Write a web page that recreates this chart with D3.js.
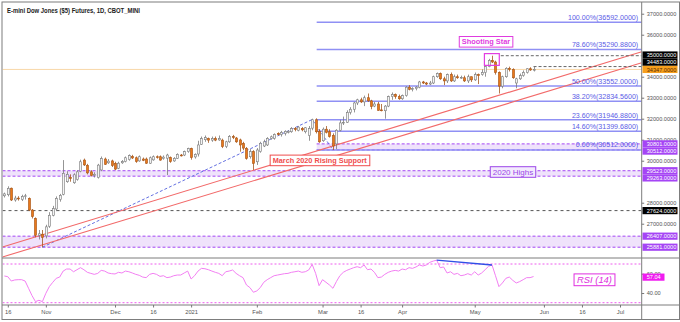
<!DOCTYPE html>
<html><head><meta charset="utf-8">
<script src="https://cdn.jsdelivr.net/npm/d3@7/dist/d3.min.js"></script>
<style>
body{margin:0;background:#fff}
svg{display:block;font-family:"Liberation Sans",Arial,sans-serif}
</style>
</head><body>
<svg id="chart" width="680" height="322"></svg>
<script>
// Daily bars, [open, high, low, close]; bar 0 = 15 Oct 2020
const candles = [
[28330,28480,28250,28420],[28380,28780,28300,28680],[28690,28720,28080,28130],[28130,28330,28050,28220],[28220,28310,28100,28180],
[28150,28380,28080,28300],[28300,28420,28150,28330],[28200,28250,27600,27650],[27650,27700,27250,27340],[27250,27300,26350,26450],
[26450,26700,26250,26520],[26500,26700,25881,26350],[26420,26950,26300,26850],[26880,27550,26800,27400],[27400,27850,27350,27720],
[27700,28300,27600,28200],[28150,28420,28050,28350],[28400,30030,28350,29400],[29000,29500,28950,29350],[29200,29350,29000,29150],
[28950,29400,28900,29330],[29100,29550,29050,29470],[29500,30050,29450,29950],[30030,30100,29750,29800],[29780,29850,29350,29420],
[29470,29550,29250,29300],[29300,29450,29200,29350],[29200,29850,29150,29790],[29560,30200,29500,30100],[30080,30150,29800,29830],
[29900,30080,29850,29980],[29990,30050,29700,29770],[29870,29950,29550,29600],[29640,29950,29600,29880],[29900,30030,29850,29960],
[29960,30200,29920,30140],[30050,30300,30000,30240],[30200,30280,30080,30130],[30140,30200,29900,29960],[29990,30250,29950,30190],
[30080,30150,29980,30020],[30080,30150,29850,29880],[29880,30200,29850,30140],[30040,30250,30000,30190],[30190,30250,30100,30150],
[30190,30250,30000,30030],[30100,30250,30050,30170],[30120,30330,29320,30270],[30150,30200,29900,29960],[29990,30170,29950,30110],
[30110,30350,30080,30300],[30270,30320,30200,30230],[30270,30480,30220,30430],[30430,30620,30380,30580],[30580,30620,30050,30150],
[30180,30350,30100,30300],[30320,30950,30200,30750],[30780,31150,30750,31050],[31000,31200,30900,31100],[31050,31100,30850,30980],
[30980,31150,30900,31050],[31050,31150,30930,30980],[30990,31200,30950,31060],[30980,31050,30600,30670],[30670,30950,30600,30900],
[30900,31220,30850,31150],[31150,31230,31030,31100],[31080,31130,30850,30900],[30990,31050,30430,30750],[30820,30900,30500,30600],
[30590,30650,30050,30110],[30190,30550,30100,30430],[30430,30500,29560,29875],[29950,30600,29800,30510],[30430,30900,30380,30830],
[30700,31000,30650,30900],[30750,31120,30700,31060],[31060,31200,31000,31140],[31060,31300,31000,31250],[31300,31350,31200,31240],
[31250,31420,31150,31350],[31300,31450,31200,31400],[31350,31450,31300,31400],[31380,31600,31330,31530],[31530,31600,31400,31480],
[31450,31650,31400,31600],[31530,31600,31400,31470],[31380,31600,31300,31570],[31200,31650,30950,31540],[31550,32000,31450,31950],
[31950,32020,31300,31380],[31400,31500,30850,30900],[30950,31580,30900,31500],[31500,31650,31300,31350],[31380,31500,31100,31150],
[31200,31300,30512,30700],[30800,31500,30550,31450],[31450,31950,31400,31800],[31800,32100,31700,31830],[31830,32400,31800,32300],
[32300,32550,32200,32450],[32450,32800,32300,32750],[32750,32950,32650,32900],[32900,33000,32750,32800],[32800,33100,32600,33000],
[33000,33200,32800,32850],[32850,32900,32450,32580],[32600,32800,32550,32700],[32700,32800,32380,32400],[32420,32700,32350,32380],
[32380,32650,32000,32600],[32600,33100,32550,33050],[33050,33250,32900,33150],[33150,33200,32950,33050],[33050,33150,32900,32950],
[32950,33150,32900,33100],[33100,33550,33050,33500],[33500,33600,33350,33400],[33400,33500,33300,33430],[33430,33550,33350,33500],
[33500,33800,33450,33750],[33750,33800,33650,33700],[33700,33750,33600,33650],[33650,33800,33600,33700],[33700,34050,33650,34000],
[34000,34200,33950,34150],[34150,34200,33850,33900],[33900,34000,33600,33800],[33800,34150,33700,34100],[34100,34200,33750,33800],
[33800,34100,33750,34000],[34000,34100,33900,33950],[33950,34050,33900,33970],[33950,34050,33750,33800],[33800,34100,33700,34000],
[34000,34000,33750,33850],[33850,34200,33800,34100],[34100,34150,33650,34050],[34100,34350,34050,34200],[34200,34520,34000,34480],
[34480,34850,34450,34780],[34780,35000,34650,34700],[34700,34760,34100,34200],[34200,34250,33200,33550],[33550,34050,33450,34000],
[34000,34450,33950,34400],[34400,34480,34250,34350],[34350,34400,33900,33950],[33700,33950,33450,33900],[33900,34150,33850,34050],
[34050,34300,34000,34200],[34200,34400,34150,34380],[34380,34450,34280,34320],[34330,34483,34250,34347]
];

// RSI(14) per bar
const rsi = [
57.6,56.9,52.4,53.5,53.8,53.8,52.4,44.9,37.3,31.1,
32.5,31.1,39.7,46.6,51.1,55.2,56.5,62.7,64.8,64.8,
62.0,64.1,66.2,64.1,61.4,60.3,59.3,60.3,63.4,62.7,
60.7,60.0,59.7,61.4,60.7,62.7,62.0,60.7,59.3,58.3,
56.5,55.9,59.3,60.3,59.3,57.2,57.9,55.9,56.5,57.9,
58.6,58.6,60.7,62.7,54.5,57.9,62.7,65.5,65.1,64.1,
62.7,61.4,60.3,57.9,62.0,62.7,63.8,60.3,57.9,55.9,
48.3,45.6,40.8,42.2,45.6,51.1,53.8,55.9,57.9,58.6,
59.3,60.0,60.3,61.4,62.0,62.7,61.4,62.0,63.8,69.6,
60.3,47.6,53.8,51.1,48.3,44.9,51.8,57.9,61.4,63.4,
64.8,66.2,67.2,66.2,69.0,64.1,64.8,61.4,55.9,56.5,
59.3,61.4,62.7,63.4,62.7,64.8,64.1,66.2,65.5,66.9,
69.0,67.9,69.0,71.7,73.0,74.0,66.2,66.9,60.7,62.0,
59.3,60.3,57.9,58.6,60.0,58.6,62.0,58.6,60.7,64.1,
67.6,69.0,57.9,46.6,50.4,55.2,56.5,53.1,50.4,51.8,
53.8,55.9,55.9,57.04
];

// Time axis: labels and the bar they sit on
const timeLabels = ["16","Nov","Dec","16","2021","Feb","Mar","16","Apr","May","Jun","16","Jul"];
const timeBars   = [1,12,32,43,54,73,92,103,115,136,156,167,178];

// Price axis ticks (levels under a value box are left out)
const priceTicks = [37000,36000,34000,33000,32000,31000,30000,28000,27000];
const rsiTicks = [60,40];

// Fibonacci extension (A -> B -> C)
const fibPoints = [[11,25881],[89,31961],[95,30512]];
const fibRatios = ["100.00%","78.60%","50.00%","38.20%","23.60%","14.60%","0.00%"];
const fibValues = [36592,35290.88,33552,32834.56,31946.88,31399.68,30512];
const fibStartBar = 90.3;

// Support / resistance zones [upper, lower, first bar or null for full width]
const zones = [[29523,29263,null],[26407,25881,null],[30801,30512,90.3]];
const dashedLevel = 27624;
const shootingStarHigh = 35000, recentHigh = 34483, lastPrice = 34347;
const lastRsi = 57.04;

// Rising support channel, two anchor points each [bar, price]
const supportUpper = [[0,25919],[180,34975]];
const supportLower = [[0,25443],[180,34448]];

// Bearish RSI divergence [bar, rsi]
const rsiDivergence = [[125,74.0],[141,69.0]];

// Shooting star highlight [bar from, bar to, price low, price high]
const starBox = [138.8,143.1,34540,35100];

// ---------------------------------------------------------------
const svg = d3.select("#chart");
const L = 2.5, R = 641.7, T = 2.5, MB = 258, RB = 305, B = 319.5, FR = 679.5;

const x  = d3.scaleLinear().domain([0,178]).range([4.35,620]);
const y  = d3.scaleLinear().domain([25367,37510]).range([MB,3]);
const yr = d3.scaleLinear().domain([30,70]).range([302.7,264]);

svg.append("rect").attr("width",680).attr("height",322).attr("fill","#fff");

const defs = svg.append("defs");
defs.append("clipPath").attr("id","mainClip").append("rect")
  .attr("x",L).attr("y",T).attr("width",R-L).attr("height",MB-T);
defs.append("clipPath").attr("id","rsiClip").append("rect")
  .attr("x",L).attr("y",MB).attr("width",R-L).attr("height",RB-MB);

const main = svg.append("g").attr("clip-path","url(#mainClip)");
const rsiG = svg.append("g").attr("clip-path","url(#rsiClip)");

const violet = "#a545f5", zoneFill = "#efe2fb";

// zones
zones.forEach(([hi,lo,start])=>{
  const x0 = start===null ? L : x(start);
  main.append("rect").attr("x",x0).attr("y",y(hi)).attr("width",R-x0).attr("height",y(lo)-y(hi))
    .attr("fill",zoneFill);
  [hi,lo].forEach(v=>{
    main.append("line").attr("x1",x0).attr("x2",R).attr("y1",y(v)).attr("y2",y(v))
      .attr("stroke",violet).attr("stroke-width",1).attr("stroke-dasharray","3,2");
  });
});

// last price line
main.append("line").attr("x1",L).attr("x2",R).attr("y1",y(lastPrice)).attr("y2",y(lastPrice))
  .attr("stroke","#f8d7a8").attr("stroke-width",1);

// dashed horizontal level
main.append("line").attr("x1",L).attr("x2",R).attr("y1",y(dashedLevel)).attr("y2",y(dashedLevel))
  .attr("stroke","#555").attr("stroke-width",1).attr("stroke-dasharray","3,3");

// fib levels
const fibLine = "#8f90f4", fibText = "#5a5ce6";
fibValues.forEach((v,i)=>{
  main.append("line").attr("x1",x(fibStartBar)).attr("x2",R).attr("y1",y(v)).attr("y2",y(v))
    .attr("stroke",fibLine).attr("stroke-width",1.5);
  svg.append("text").attr("x",R-3.5).attr("y",y(v)-(i===6?3.2:2.3)).attr("text-anchor","end")
    .attr("font-size",7.1).attr("fill",fibText)
    .text(`${fibRatios[i]}(${v.toFixed(4)})`);
});

// A-B-C path
main.append("path").attr("d",d3.line().x(d=>x(d[0])).y(d=>y(d[1]))(fibPoints))
  .attr("fill","none").attr("stroke","#6470e0").attr("stroke-width",1).attr("stroke-dasharray","3,2");

// rising support channel, extended across the panel
function extend(pts){
  const [a,b] = pts, s = (b[1]-a[1])/(b[0]-a[0]);
  const i0 = x.invert(L), i1 = x.invert(R);
  return [[i0, a[1]+s*(i0-a[0])],[i1, a[1]+s*(i1-a[0])]];
}
[supportUpper,supportLower].forEach(p=>{
  main.append("path").attr("d",d3.line().x(d=>x(d[0])).y(d=>y(d[1]))(extend(p)))
    .attr("fill","none").attr("stroke","#f26a6a").attr("stroke-width",1.1);
});

// dashed highs on the right
main.append("line").attr("x1",x(starBox[1])+1.5).attr("x2",R)
  .attr("y1",y(shootingStarHigh)).attr("y2",y(shootingStarHigh))
  .attr("stroke","#666").attr("stroke-width",1).attr("stroke-dasharray","3,2");
main.append("line").attr("x1",x(candles.length-1)).attr("x2",R)
  .attr("y1",y(recentHigh)).attr("y2",y(recentHigh))
  .attr("stroke","#666").attr("stroke-width",1).attr("stroke-dasharray","3,2");

// candles
const bw = 2.2;
const cg = main.append("g");
candles.forEach((c,i)=>{
  const [o,h,l,cl] = c, up = cl>=o;
  const stroke = up ? "#7a7a7a" : "#a4561c";
  const cx = Math.round(x(i))+0.5;
  cg.append("line").attr("x1",cx).attr("x2",cx).attr("y1",y(h)).attr("y2",y(l))
    .attr("stroke",stroke).attr("stroke-width",0.8);
  const yt = y(Math.max(o,cl)), yb = y(Math.min(o,cl));
  cg.append("rect").attr("x",cx-bw/2).attr("y",yt).attr("width",bw).attr("height",Math.max(0.8,yb-yt))
    .attr("fill",up?"#f4f4f4":"#e8781a").attr("stroke",stroke).attr("stroke-width",0.6);
});

// shooting star box and label
main.append("rect").attr("x",x(starBox[0])).attr("y",y(starBox[3]))
  .attr("width",x(starBox[1])-x(starBox[0])).attr("height",y(starBox[2])-y(starBox[3]))
  .attr("fill","none").attr("stroke","#e23ee2").attr("stroke-width",1.2);

function tag(g, cx, cy, txt, color, size, opts={}){
  const t = g.append("text").attr("x",cx).attr("y",cy).attr("text-anchor","middle")
    .attr("dominant-baseline","central").attr("font-size",size).attr("fill",color)
    .attr("font-weight",opts.weight||"normal").attr("font-style",opts.style||"normal").text(txt);
  const bb = t.node().getBBox();
  const px = opts.padX||2.5, py = opts.padY||0.8;
  g.insert("rect", () => t.node()).attr("x",bb.x-px).attr("y",bb.y-py)
    .attr("width",bb.width+2*px).attr("height",bb.height+2*py)
    .attr("fill",opts.fill||"#fff").attr("stroke",color).attr("stroke-width",1);
}
tag(svg, 486, 41.8, "Shooting Star", "#df3cdf", 7.4, {weight:"bold"});
tag(svg, 319.7, 160.4, "March 2020 Rising Support", "#ef4d4d", 7.3, {weight:"bold"});
tag(svg, 513, 172, "2020 Highs", "#9b46e8", 8, {fill:"#f3eafd"});

// RSI panel
[70,30].forEach(v=>{
  rsiG.append("line").attr("x1",L).attr("x2",R).attr("y1",yr(v)).attr("y2",yr(v))
    .attr("stroke","#ee5cee").attr("stroke-width",1).attr("stroke-dasharray","2,2");
});
rsiG.append("path").datum(rsi)
  .attr("d",d3.line().x((d,i)=>x(i)).y(d=>yr(d)))
  .attr("fill","none").attr("stroke","#f27ff2").attr("stroke-width",1);
rsiG.append("path").attr("d",d3.line().x(d=>x(d[0])).y(d=>yr(d[1]))(rsiDivergence))
  .attr("fill","none").attr("stroke","#3050e6").attr("stroke-width",1.4);
tag(svg, 594.5, 279.8, "RSI (14)", "#e02ee0", 9.4, {style:"italic", padX:3, padY:0.4});

// frame lines
const frame = svg.append("g").attr("stroke","#7d7d7d").attr("stroke-width",1).attr("fill","none");
frame.append("rect").attr("x",2).attr("y",2).attr("width",FR-2).attr("height",B-2);
frame.append("line").attr("x1",R).attr("x2",R).attr("y1",2).attr("y2",B);
frame.append("line").attr("x1",2).attr("x2",FR).attr("y1",MB).attr("y2",MB);
frame.append("line").attr("x1",2).attr("x2",FR).attr("y1",RB).attr("y2",RB);

// price axis
const axisCol = "#555";
const priceAxis = svg.append("g").attr("transform",`translate(${R},0)`)
  .call(d3.axisRight(y).tickValues(priceTicks).tickSize(2.5).tickPadding(2.5)
    .tickFormat(d=>d.toFixed(4)));
priceAxis.select(".domain").remove();
priceAxis.selectAll("line").attr("stroke","#777");
priceAxis.selectAll("text").attr("font-size",5.6).attr("fill",axisCol).attr("font-family","Liberation Sans, Arial, sans-serif");

const rsiAxis = svg.append("g").attr("transform",`translate(${R},0)`)
  .call(d3.axisRight(yr).tickValues(rsiTicks).tickSize(2.5).tickPadding(2.5).tickFormat(d=>d.toFixed(2)));
rsiAxis.select(".domain").remove();
rsiAxis.selectAll("line").attr("stroke","#777");
rsiAxis.selectAll("text").attr("font-size",5.6).attr("fill",axisCol).attr("font-family","Liberation Sans, Arial, sans-serif");

// time axis
const timeAxis = svg.append("g").attr("transform",`translate(0,${RB})`)
  .call(d3.axisBottom(x).tickValues(timeBars).tickSize(2.5).tickPadding(2)
    .tickFormat((d,i)=>timeLabels[i]));
timeAxis.select(".domain").remove();
timeAxis.selectAll("line").attr("stroke","#777");
timeAxis.selectAll("text").attr("font-size",5.8).attr("fill",axisCol).attr("font-family","Liberation Sans, Arial, sans-serif");

// right-axis value boxes: walk top-down, pushing a box below an overlap further down,
// except the last-price box, which stays put and pushes the ones above it upward
const boxes = [
  {v:shootingStarHigh, fill:"#000", color:"#fff"},
  {v:recentHigh, fill:"#000", color:"#fff"},
  {v:lastPrice, fill:"#f7a01e", color:"#5a2c00", fixed:true},
  {v:30801, fill:violet, color:"#fff"},
  {v:30512, fill:violet, color:"#fff"},
  {v:29523, fill:violet, color:"#fff"},
  {v:29263, fill:violet, color:"#fff"},
  {v:dashedLevel, fill:"#000", color:"#fff"},
  {v:26407, fill:violet, color:"#fff"},
  {v:25881, fill:violet, color:"#fff"}
].map(b=>({...b, py:y(b.v)})).sort((a,b)=>a.py-b.py);
const bh = 7.2;
for(let i=1;i<boxes.length;i++){
  if(boxes[i].fixed){
    for(let j=i;j>0;j--){
      const d = bh-(boxes[j].py-boxes[j-1].py);
      if(d>0) boxes[j-1].py -= d;
    }
  } else {
    const d = bh-(boxes[i].py-boxes[i-1].py);
    if(d>0) boxes[i].py += d;
  }
}
const bg = svg.append("g");
boxes.forEach(b=>{
  bg.append("rect").attr("x",R+0.8).attr("y",b.py-bh/2).attr("width",35).attr("height",bh).attr("fill",b.fill);
  bg.append("text").attr("x",R+5).attr("y",b.py+0.2).attr("dominant-baseline","central")
    .attr("font-size",5.6).attr("fill",b.color).text(b.v.toFixed(4));
});
bg.append("rect").attr("x",R+0.8).attr("y",yr(lastRsi)-bh/2+0.6).attr("width",22).attr("height",bh).attr("fill","#f01cf0");
bg.append("text").attr("x",R+5).attr("y",yr(lastRsi)+0.8).attr("dominant-baseline","central")
  .attr("font-size",5.6).attr("fill","#fff").text(lastRsi.toFixed(2));

// title
svg.append("text").attr("x",7).attr("y",13.3).attr("font-size",7).attr("font-weight","bold")
  .attr("fill","#222").attr("textLength",133).attr("lengthAdjust","spacingAndGlyphs")
  .text("E-mini Dow Jones ($5) Futures, 1D, CBOT_MINI");
</script>
</body></html>
